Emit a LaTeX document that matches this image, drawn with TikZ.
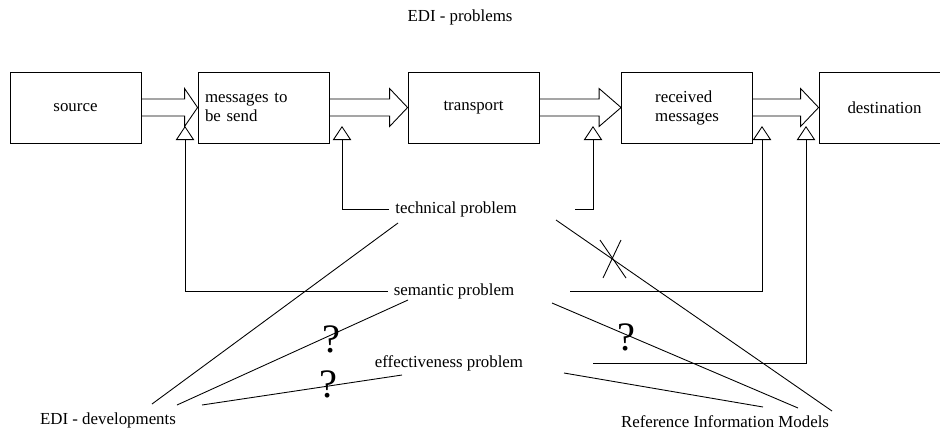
\documentclass[tikz,border=0pt]{standalone}
\usepackage{fontspec}
\setmainfont{Liberation Serif}
\usetikzlibrary{arrows.meta,calc}

% wide hollow arrow between two boxes
\newcommand{\blockarrow}[3][16]{%
  \draw ($(#2.east)+(0,-8.5)$) -- ($(#3.west)+(-#1,-8.5)$) -- ($(#3.west)+(-#1,-19)$)
    -- (#3.west) -- ($(#3.west)+(-#1,19)$) -- ($(#3.west)+(-#1,8.5)$) -- ($(#2.east)+(0,8.5)$);}

\begin{document}
\begin{tikzpicture}[x=0.02cm, y=-0.02cm, line width=0.5pt,
    font=\fontsize{9.6}{10.8}\selectfont,
    box/.style={draw, minimum width=2.62cm, minimum height=1.42cm, inner sep=0pt},
    fb/.style={-{Triangle[open, length=8pt, width=10.5pt]}},
    qmark/.style={font=\fontsize{23}{23}\selectfont, inner sep=0pt}]
  \useasboundingbox (0,0) rectangle (940,430);

  \node at (460,17) (title) {EDI - problems};

  % chain of boxes
  \node[box] at (75.5,107.5) (src) {source};
  \node[box, text width=2.34cm, align=left] at (263.5,107.5) (msg) {messages to\\be send};
  \node[box] at (473.5,107.5) (trans) {transport};
  \node[box, align=left] at (687,107.5) (recv) {received\\messages};
  \node[box] at (884.5,107.5) (dest) {destination};
  \blockarrow[13]{src}{msg}
  \blockarrow[18]{msg}{trans}
  \blockarrow[22]{trans}{recv}
  \blockarrow[18]{recv}{dest}

  % problems
  \node at (456,209) (tech) {technical problem};
  \node at (454,291) (sem) {semantic problem};
  \node at (449,363) (eff) {effectiveness problem};
  \node at (108,420) (dev) {EDI - developments};
  \node at (725,422) (rim) {Reference Information Models};

  \coordinate (in1) at (185,126);
  \coordinate (in2) at (342,126);
  \coordinate (in3) at (593,126);
  \coordinate (in4) at (762,126);
  \coordinate (in5) at (806,126);
  \coordinate (techR) at (575,209);
  \coordinate (semR) at (570,291);
  \coordinate (effR) at (593,363);
  \draw[fb] (sem.west) -| (in1);
  \draw[fb] (tech.west) -| (in2);
  \draw[fb] (techR) -| (in3);
  \draw[fb] (semR) -| (in4);
  \draw[fb] (effR) -| (in5);

  % EDI developments
  \coordinate (dev1) at (152,404);
  \coordinate (dev2) at (177,405);
  \coordinate (dev3) at (202,405);
  \coordinate (tech1) at (398,223);
  \coordinate (sem1) at (408,300);
  \coordinate (eff1) at (402,375);
  \draw (dev1) -- (tech1);
  \draw (dev2) -- (sem1);
  \draw (dev3) -- (eff1);
  \node[qmark] at (331,339) (q1) {?};
  \node[qmark] at (328,384) (q2) {?};

  % reference information models
  \coordinate (rim1) at (832,411);
  \coordinate (rim2) at (798,408);
  \coordinate (rim3) at (763,407);
  \coordinate (tech2) at (556,220);
  \coordinate (sem2) at (552,303);
  \coordinate (eff2) at (564,373);
  \draw (tech2) -- (rim1);
  \draw (sem2) -- (rim2);
  \draw (eff2) -- (rim3);
  \node[qmark] at (626,337) (q3) {?};
  \draw (600,240) -- (626,278);
  \draw (621,240) -- (603,278);
\end{tikzpicture}
\end{document}
